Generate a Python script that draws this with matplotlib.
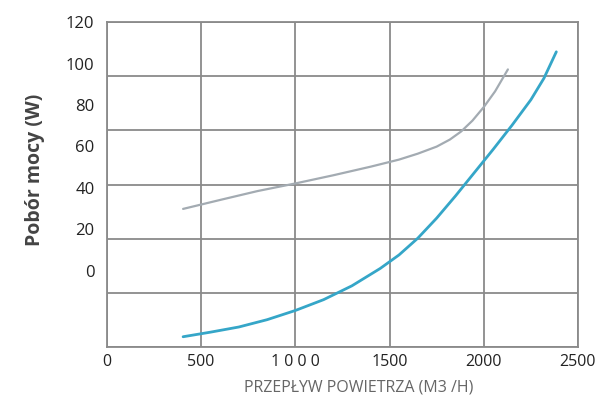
import numpy as np
import matplotlib.pyplot as plt

plt.rcParams['font.family'] = ['Open Sans', 'DejaVu Sans']

# przeplyw powietrza (m3/h) i pobor mocy (jednostki siatki)
gray_x = [404, 600, 800, 1000, 1200, 1400, 1550, 1650, 1750, 1820, 1880, 1940, 2000, 2060, 2128]
gray_y = [51.0, 54.3, 57.6, 60.4, 63.4, 66.6, 69.2, 71.4, 74.0, 76.6, 79.6, 83.6, 88.6, 94.4, 102.5]
blue_x = [404, 550, 700, 850, 1000, 1150, 1300, 1450, 1550, 1650, 1750, 1850, 1950,
          2050, 2150, 2250, 2319, 2385]
blue_y = [3.8, 5.5, 7.4, 10.1, 13.5, 17.5, 22.6, 29.0, 34.0, 40.2, 47.6, 55.8, 64.4,
          73.0, 81.9, 91.3, 99.2, 109.0]

xticks = [0, 500, 1000, 1500, 2000, 2500]
xlabels = ['0', '500', '1 0 0 0', '1500', '2000', '2500']
ylabels_val = [0, 20, 40, 60, 80, 100, 120]

fig = plt.figure(figsize=(5.95, 4.04), dpi=100)
ax = fig.add_axes([0.1798, 0.141, 0.7916, 0.8045])

ax.plot(gray_x, gray_y, color='#a3abb2', lw=1.6, solid_capstyle='round', solid_joinstyle='round')
ax.plot(blue_x, blue_y, color='#35a6c8', lw=2.0, solid_capstyle='round', solid_joinstyle='round')

ax.set_xlim(0, 2500)
ax.set_ylim(0, 120)
ax.set_xticks(xticks)
ax.set_xticklabels(xlabels, fontsize=11.5, color='#222222')
ax.set_yticks(np.arange(0, 121, 20))
ax.set_yticklabels([])
ax.tick_params(length=0)
ax.tick_params(axis='x', pad=5)
ax.grid(True, color='#8a8a8a', lw=1.3)
for s in ax.spines.values():
    s.set_color('#8a8a8a')
    s.set_linewidth(1.3)

# etykiety osi Y przesuniete wzgledem siatki (jak w oryginale)
off, k = 28.1, 0.7658
sec = ax.secondary_yaxis('left', functions=(lambda g: (g - off) / k, lambda v: v * k + off))
sec.set_yticks(ylabels_val)
sec.tick_params(length=0, pad=9, labelsize=12, labelcolor='#222222')
sec.spines['left'].set_visible(False)

fig.text(35 / 595, 1 - 170 / 404, 'Pobór mocy (W)', rotation=90, ha='center', va='center',
         fontsize=14, fontweight='bold', color='#444444')

ax.set_xlabel('PRZEPŁYW POWIETRZA (M3 /H)', fontsize=11.5, color='#666666')
ax.xaxis.set_label_coords(0.535, -0.10)

fig.savefig('out.png', dpi=100)
